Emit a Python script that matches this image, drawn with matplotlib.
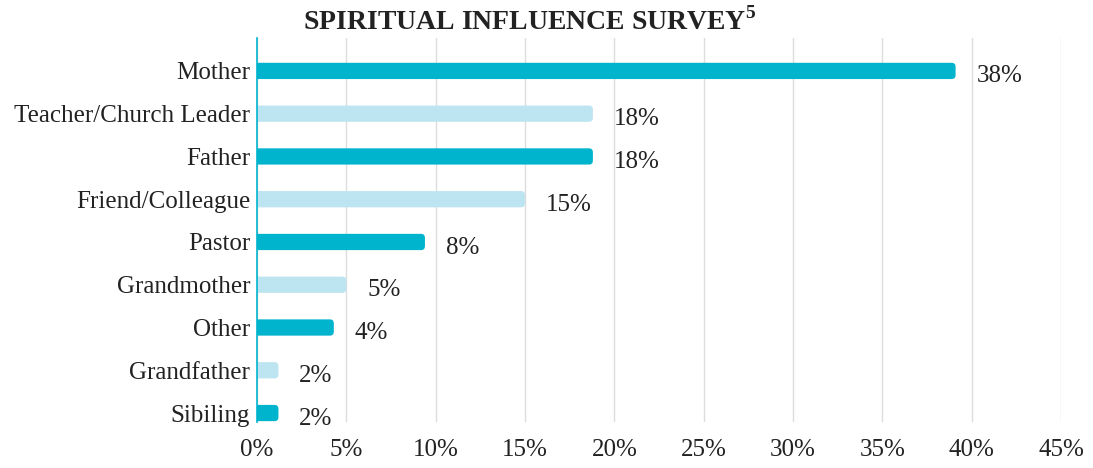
import matplotlib
matplotlib.use("Agg")
import matplotlib.pyplot as plt
from matplotlib.patches import FancyBboxPatch

categories = ["Mother", "Teacher/Church Leader", "Father", "Friend/Colleague",
              "Pastor", "Grandmother", "Other", "Grandfather", "Sibiling"]
bar_values = [39.1, 18.8, 18.8, 15.0, 9.4, 5.0, 4.3, 1.2, 1.2]
value_labels = ["38%", "18%", "18%", "15%", "8%", "5%", "4%", "2%", "2%"]
xticks = [0, 5, 10, 15, 20, 25, 30, 35, 40, 45]

dark = "#00B4CD"
light = "#BCE4F1"

plt.rcParams['font.family'] = ['Liberation Serif', 'DejaVu Serif']
plt.rcParams['mathtext.fontset'] = 'custom'
plt.rcParams['mathtext.rm'] = 'Liberation Serif'
plt.rcParams['mathtext.bf'] = 'Liberation Serif:bold'

fig = plt.figure(figsize=(10.93, 4.68), dpi=100)
ax = fig.add_axes([257 / 1093, 1 - 422 / 468, (1061 - 257) / 1093, 384 / 468])

n = len(categories)
ys = [n - 1 - i for i in range(n)]
h = 0.38
for i, (y, v) in enumerate(zip(ys, bar_values)):
    color = dark if i % 2 == 0 else light
    p = FancyBboxPatch((-1, y - h / 2), v + 1, h,
                       boxstyle="round,pad=0,rounding_size=0.22",
                       mutation_aspect=0.42,
                       facecolor=color, edgecolor="none", zorder=3)
    ax.add_patch(p)
    ax.annotate(value_labels[i], (v, y), xytext=(15, -4), textcoords="offset points",
                ha="left", va="center", fontsize=18, color="#222222")

ax.set_xlim(0, 45)
ax.set_ylim(-0.21, 8.77)
ax.set_yticks(ys)
ax.set_yticklabels(categories)
ax.set_xticks(xticks)
ax.set_xticklabels([f"{t}%" for t in xticks])
ax.tick_params(axis="both", length=0, labelsize=18, colors="#222222")
ax.tick_params(axis="y", pad=5)
ax.tick_params(axis="x", pad=12)
ax.grid(axis="x", color="#DDDDDD", linewidth=1, zorder=0)
ax.set_axisbelow(True)
for s in ["top", "right", "bottom"]:
    ax.spines[s].set_visible(False)
ax.spines["left"].set_color(dark)
ax.spines["left"].set_linewidth(1.2)
ax.spines["left"].set_zorder(4)

fig.text(530 / 1093, 1 - 21 / 468, r"SPIRITUAL INFLUENCE SURVEY$^{\mathbf{5}}$",
         ha="center", va="center", fontsize=20, fontweight="bold", color="#222222")

fig.savefig("out.png", dpi=100)
